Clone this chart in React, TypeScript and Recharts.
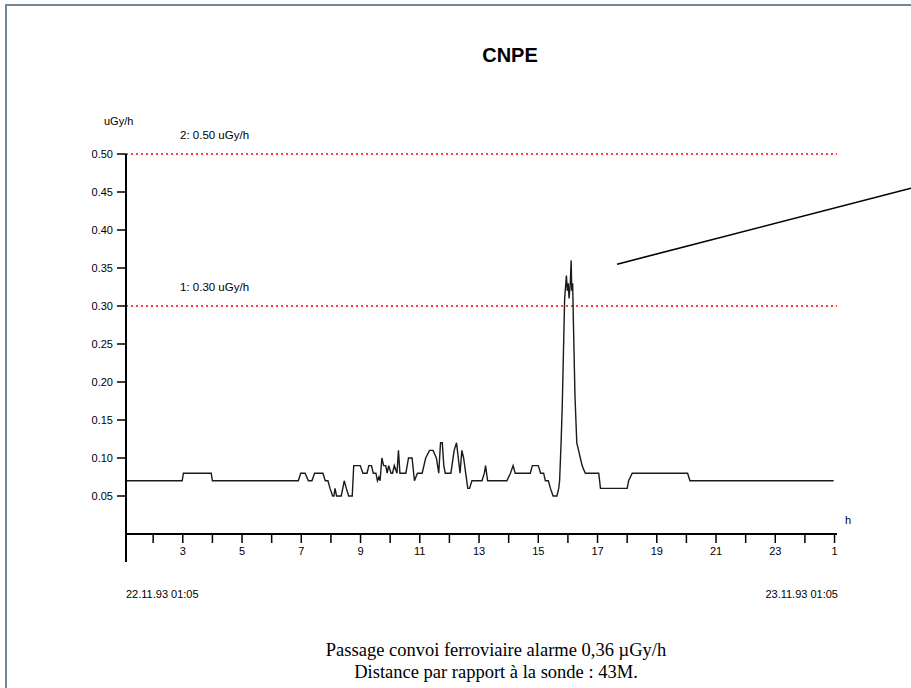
import React from "react";
import { LineChart, Line, XAxis, YAxis, ReferenceLine } from "recharts";

// time of day in hours (22.11.93 01:05 -> 23.11.93 01:05, 25 = 01:00 next day)
const hours = [
  1.08, 2.98, 3.02, 3.96, 4.0, 6.9, 6.98, 7.13, 7.24, 7.36, 7.45, 7.73, 7.81, 7.9,
  7.97, 8.06, 8.1, 8.14, 8.19, 8.35, 8.45, 8.52, 8.6, 8.72, 8.77, 8.99, 9.08, 9.22,
  9.28, 9.37, 9.43, 9.52, 9.57, 9.62, 9.66, 9.72, 9.78, 9.85, 9.9, 9.95, 10.03, 10.08,
  10.14, 10.23, 10.28, 10.33, 10.53, 10.62, 10.74, 10.82, 10.92, 11.08, 11.2, 11.33,
  11.45, 11.56, 11.64, 11.7, 11.76, 11.81, 11.86, 12.05, 12.16, 12.24, 12.3, 12.36,
  12.42, 12.48, 12.55, 12.62, 12.68, 12.76, 13.1, 13.18, 13.22, 13.29, 13.94, 14.06,
  14.15, 14.22, 14.73, 14.8, 15.0, 15.08, 15.18, 15.24, 15.34, 15.41, 15.5, 15.63,
  15.69, 15.72, 15.77, 15.81, 15.85, 15.89, 15.95, 15.98, 16.01, 16.04, 16.08, 16.11,
  16.13, 16.16, 16.19, 16.24, 16.3, 16.36, 16.42, 16.48, 16.53, 16.59, 17.04, 17.1,
  18.0, 18.05, 18.17, 20.04, 20.12, 24.97,
];

// dose rate, uGy/h
const doseRate = [
  0.07, 0.07, 0.08, 0.08, 0.07, 0.07, 0.08, 0.08, 0.07, 0.07, 0.08, 0.08, 0.07, 0.07,
  0.06, 0.05, 0.05, 0.06, 0.05, 0.05, 0.07, 0.06, 0.05, 0.05, 0.09, 0.09, 0.08, 0.08,
  0.09, 0.09, 0.08, 0.08, 0.07, 0.075, 0.07, 0.1, 0.09, 0.09, 0.08, 0.09, 0.08, 0.08,
  0.09, 0.08, 0.11, 0.08, 0.08, 0.1, 0.1, 0.07, 0.08, 0.08, 0.1, 0.11,
  0.11, 0.1, 0.08, 0.12, 0.12, 0.09, 0.08, 0.08, 0.11, 0.12, 0.1, 0.08,
  0.11, 0.1, 0.08, 0.06, 0.06, 0.07, 0.07, 0.08, 0.09, 0.07, 0.07, 0.08,
  0.09, 0.08, 0.08, 0.09, 0.09, 0.08, 0.08, 0.07, 0.07, 0.06, 0.05, 0.05,
  0.06, 0.07, 0.12, 0.17, 0.24, 0.31, 0.34, 0.32, 0.33, 0.31, 0.33, 0.36,
  0.32, 0.33, 0.27, 0.18, 0.12, 0.11, 0.1, 0.09, 0.085, 0.08, 0.08, 0.06,
  0.06, 0.07, 0.08, 0.08, 0.07, 0.07,
];

const xTicks = [2, 3, 4, 5, 6, 7, 8, 9, 10, 11, 12, 13, 14, 15, 16, 17, 18, 19, 20, 21, 22, 23, 24, 25];
const yTicks = [0.05, 0.1, 0.15, 0.2, 0.25, 0.3, 0.35, 0.4, 0.45, 0.5];

const X_START = 1 + 5 / 60;
const X_END = 25 + 5 / 60;

const thresholds = [
  { value: 0.5, label: "2: 0.50 uGy/h" },
  { value: 0.3, label: "1: 0.30 uGy/h" },
];

// pointer line drawn on the right side of the picture
const pointer = [
  { x: 17.66, y: 0.355 },
  { x: 27.58, y: 0.455 },
];

const data = hours.map((h, i) => ({ h, v: doseRate[i] }));

const sans = "'Liberation Sans', Arial, sans-serif";

const XTick = (props: any) => {
  const { x, y, payload } = props;
  const h = payload.value;
  if (h % 2 === 0) return null;
  return (
    <text x={x} y={y} dy={10} textAnchor="middle" fontSize={11} fontFamily={sans} fill="#000">
      {h > 24 ? h - 24 : h}
    </text>
  );
};

const thresholdLabel = (text: string) => (props: any) => {
  const { viewBox } = props;
  return (
    <text
      x={viewBox.x + 54}
      y={viewBox.y - 19}
      dominantBaseline="central"
      fontSize={11.5}
      fontFamily={sans}
      fill="#000"
    >
      {text}
    </text>
  );
};

const abs = (style: React.CSSProperties): React.CSSProperties => ({
  position: "absolute",
  whiteSpace: "nowrap",
  lineHeight: 1,
  ...style,
});

export default function App() {
  return (
    <div style={{ position: "absolute", left: 0, top: 0, width: 911, height: 688, background: "#fff", overflow: "hidden" }}>
      <div style={abs({ left: 5, top: 4, width: 906, height: 2, background: "#6e8896" })} />
      <div style={abs({ left: 5, top: 4, width: 2, height: 684, background: "#6e8896" })} />

      <LineChart
        width={911}
        height={688}
        data={data}
        margin={{ top: 154, right: 74, bottom: 124, left: 66 }}
        style={{ position: "absolute", left: 0, top: 0 }}
      >
        <XAxis
          dataKey="h"
          type="number"
          domain={[X_START, X_END]}
          ticks={xTicks}
          interval={0}
          height={30}
          tickSize={9}
          tick={<XTick />}
          axisLine={{ stroke: "#000", strokeWidth: 2 }}
          tickLine={{ stroke: "#000", strokeWidth: 1.5 }}
          allowDataOverflow
        />
        <YAxis
          type="number"
          domain={[0, 0.5]}
          ticks={yTicks}
          interval={0}
          width={60}
          tickSize={9}
          tickMargin={4}
          tickFormatter={(v: number) => v.toFixed(2)}
          tick={{ fontSize: 11, fontFamily: sans, fill: "#000" }}
          axisLine={{ stroke: "#000", strokeWidth: 2 }}
          tickLine={{ stroke: "#000", strokeWidth: 1.5 }}
        />
        {thresholds.map((t) => (
          <ReferenceLine
            key={t.value}
            y={t.value}
            stroke="#ff0000"
            strokeWidth={1.5}
            strokeDasharray="2 3"
            label={thresholdLabel(t.label)}
          />
        ))}
        <ReferenceLine
          segment={[{ x: X_START, y: 0 }, { x: X_START, y: -0.037 }]}
          stroke="#000"
          strokeWidth={2}
          ifOverflow="visible"
        />
        <ReferenceLine segment={pointer} stroke="#000" strokeWidth={1.6} ifOverflow="visible" />
        <Line
          type="linear"
          dataKey="v"
          stroke="#1a1a1a"
          strokeWidth={1.4}
          dot={false}
          isAnimationActive={false}
        />
      </LineChart>

      <div
        style={abs({
          left: 510,
          top: 45,
          transform: "translateX(-50%)",
          fontSize: 20,
          fontWeight: "bold",
          fontFamily: "'Liberation Sans Narrow', 'Liberation Sans', Arial, sans-serif",
        })}
      >
        CNPE
      </div>
      <div style={abs({ left: 104, top: 116, fontSize: 11, fontFamily: sans })}>uGy/h</div>
      <div style={abs({ left: 845, top: 515, fontSize: 11, fontFamily: sans })}>h</div>
      <div style={abs({ left: 126, top: 589, fontSize: 11, fontFamily: sans })}>22.11.93 01:05</div>
      <div style={abs({ right: 911 - 838, top: 589, fontSize: 11, fontFamily: sans })}>23.11.93 01:05</div>
      <div
        style={abs({
          left: 496,
          top: 639,
          transform: "translateX(-50%)",
          textAlign: "center",
          fontSize: 18.5,
          lineHeight: "22px",
          fontFamily: "'Liberation Serif', 'Times New Roman', serif",
        })}
      >
        Passage convoi ferroviaire alarme 0,36 µGy/h
        <br />
        Distance par rapport à la sonde : 43M.
      </div>
    </div>
  );
}
